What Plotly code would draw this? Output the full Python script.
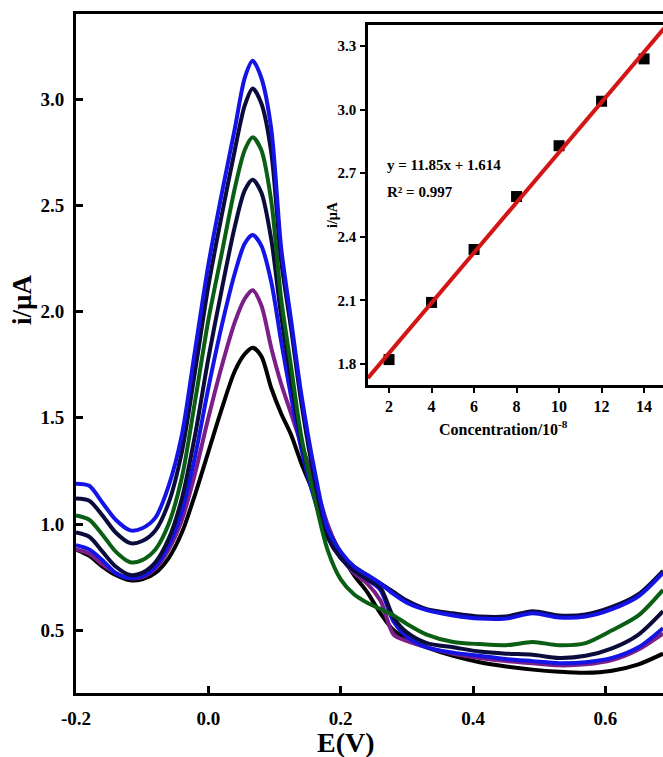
import plotly.graph_objects as go

# ---------------- data ----------------
E = [-0.2, -0.18, -0.16, -0.14, -0.118, -0.10, -0.08, -0.06, -0.04, -0.02, 0.0, 0.02, 0.04, 0.055,
     0.067, 0.08, 0.095, 0.11, 0.125, 0.14, 0.16, 0.18, 0.20, 0.22, 0.24, 0.26, 0.28, 0.30, 0.33,
     0.37, 0.41, 0.45, 0.49, 0.53, 0.57, 0.61, 0.65, 0.687]

i_black = [0.88, 0.85, 0.80, 0.76, 0.735, 0.74, 0.77, 0.84, 0.96, 1.14, 1.34, 1.54, 1.72, 1.80,
           1.83, 1.79, 1.64, 1.52, 1.42, 1.29, 1.14, 0.99, 0.86, 0.76, 0.68, 0.58, 0.50, 0.46, 0.42,
           0.38, 0.35, 0.33, 0.315, 0.305, 0.30, 0.31, 0.34, 0.39]
i_purple = [0.88, 0.86, 0.81, 0.77, 0.745, 0.75, 0.79, 0.88, 1.02, 1.24, 1.50, 1.74, 1.95, 2.06,
            2.10, 2.03, 1.83, 1.66, 1.52, 1.38, 1.20, 1.00, 0.85, 0.77, 0.72, 0.64, 0.48, 0.45, 0.42,
            0.39, 0.37, 0.355, 0.345, 0.335, 0.34, 0.36, 0.41, 0.485]
i_blue2 = [0.90, 0.88, 0.83, 0.77, 0.745, 0.755, 0.80, 0.90, 1.06, 1.32, 1.64, 1.93, 2.18, 2.32,
           2.36, 2.31, 2.14, 1.86, 1.60, 1.36, 1.12, 0.94, 0.84, 0.78, 0.74, 0.69, 0.54, 0.47, 0.42,
           0.395, 0.38, 0.365, 0.355, 0.345, 0.35, 0.37, 0.42, 0.51]
i_navy2 = [0.96, 0.94, 0.87, 0.80, 0.76, 0.77, 0.82, 0.93, 1.12, 1.42, 1.78, 2.10, 2.40, 2.57,
           2.62, 2.56, 2.34, 1.98, 1.68, 1.40, 1.14, 0.94, 0.84, 0.78, 0.74, 0.70, 0.56, 0.49, 0.44,
           0.42, 0.40, 0.39, 0.385, 0.37, 0.38, 0.415, 0.48, 0.59]
i_green = [1.04, 1.02, 0.95, 0.87, 0.82, 0.83, 0.88, 1.00, 1.22, 1.58, 1.96, 2.27, 2.58, 2.76,
           2.82, 2.76, 2.52, 2.06, 1.74, 1.42, 1.13, 0.88, 0.74, 0.67, 0.63, 0.60, 0.57, 0.53, 0.48,
           0.445, 0.435, 0.43, 0.445, 0.43, 0.44, 0.50, 0.57, 0.69]
i_navy1 = [1.12, 1.11, 1.04, 0.96, 0.91, 0.92, 0.97, 1.10, 1.34, 1.72, 2.12, 2.45, 2.76, 2.97,
           3.05, 2.98, 2.75, 2.24, 1.92, 1.58, 1.22, 0.96, 0.86, 0.80, 0.76, 0.72, 0.68, 0.64, 0.60,
           0.58, 0.565, 0.565, 0.59, 0.57, 0.575, 0.61, 0.67, 0.78]
i_blue1 = [1.19, 1.18, 1.10, 1.02, 0.97, 0.98, 1.03, 1.18, 1.42, 1.82, 2.22, 2.55, 2.86, 3.10,
           3.18, 3.10, 2.86, 2.30, 1.96, 1.62, 1.26, 0.98, 0.87, 0.80, 0.76, 0.72, 0.67, 0.63, 0.595,
           0.57, 0.555, 0.555, 0.58, 0.56, 0.565, 0.60, 0.66, 0.77]

conc = [2, 4, 6, 8, 10, 12, 14]
i_peak = [1.82, 2.09, 2.34, 2.59, 2.83, 3.04, 3.24]
fit_slope = 0.1185   # 11.85 x 10^-2 per plotted unit
fit_intercept = 1.614
fit_x = [1.0, 15.0]

main_xtickvals = [-0.2, 0.0, 0.2, 0.4, 0.6]
main_xticktext = ["-0.2", "0.0", "0.2", "0.4", "0.6"]
main_ytickvals = [0.5, 1.0, 1.5, 2.0, 2.5, 3.0]
main_yticktext = ["0.5", "1.0", "1.5", "2.0", "2.5", "3.0"]
ins_xtickvals = [2, 4, 6, 8, 10, 12, 14]
ins_ytickvals = [1.8, 2.1, 2.4, 2.7, 3.0, 3.3]
ins_yticktext = ["1.8", "2.1", "2.4", "2.7", "3.0", "3.3"]

# ---------------- styles ----------------
curves = [
    (i_black, "#000000"),
    (i_purple, "#7b1e88"),
    (i_blue2, "#1414e6"),
    (i_navy2, "#0b0b3c"),
    (i_green, "#0b5f14"),
    (i_navy1, "#0b0b3c"),
    (i_blue1, "#1414e6"),
]
FONT = "Liberation Serif"

fig = go.Figure()
for vals, col in curves:
    fig.add_trace(go.Scatter(x=E, y=vals, mode="lines", line=dict(color=col, width=4, shape="spline", smoothing=0.8),
                             showlegend=False, hoverinfo="skip", xaxis="x", yaxis="y"))

fit_y = [fit_slope * v + fit_intercept for v in fit_x]
fig.add_trace(go.Scatter(x=conc, y=i_peak, mode="markers",
                         marker=dict(symbol="square", size=11, color="#000000"),
                         showlegend=False, xaxis="x2", yaxis="y2"))
fig.add_trace(go.Scatter(x=fit_x, y=fit_y, mode="lines", line=dict(color="#d41515", width=4),
                         showlegend=False, xaxis="x2", yaxis="y2"))

W, H = 663, 757
L, R, T, B = 76, 0, 14, 64
pw, ph = W - L - R, H - T - B


def px(xp):
    return (xp - L) / pw


def py(yp):
    return (H - B - yp) / ph


fig.update_layout(
    width=W, height=H,
    margin=dict(l=L, r=R, t=T, b=B),
    paper_bgcolor="white", plot_bgcolor="white",
    font=dict(family=FONT, color="black", weight="bold"),
    xaxis=dict(range=[-0.2, 0.687], domain=[0, 1], showgrid=False, zeroline=False,
               showline=True, linecolor="black", linewidth=3, mirror=True,
               ticks="inside", ticklen=7, tickwidth=2.5, tickcolor="black",
               tickvals=main_xtickvals, ticktext=main_xticktext,
               tickfont=dict(family=FONT, size=19, weight="bold"), ticklabelstandoff=6),
    yaxis=dict(range=[0.205, 3.40], domain=[0, 1], showgrid=False, zeroline=False,
               showline=True, linecolor="black", linewidth=3, mirror=False,
               ticks="inside", ticklen=7, tickwidth=2.5, tickcolor="black",
               tickvals=main_ytickvals, ticktext=main_yticktext,
               tickfont=dict(family=FONT, size=19, weight="bold"), ticklabelstandoff=5),
    xaxis2=dict(range=[1.01, 14.89], domain=[px(368), 1.0], anchor="y2", showgrid=False, zeroline=False,
                showline=True, linecolor="black", linewidth=2.5, mirror=True,
                ticks="outside", ticklen=5, tickwidth=2, tickcolor="black",
                tickvals=ins_xtickvals,
                tickfont=dict(family=FONT, size=16, weight="bold"), ticklabelstandoff=0),
    yaxis2=dict(range=[1.70, 3.40], domain=[py(385), py(25)], anchor="x2", showgrid=False, zeroline=False,
                showline=True, linecolor="black", linewidth=2.5, mirror=False,
                ticks="outside", ticklen=5, tickwidth=2, tickcolor="black",
                tickvals=ins_ytickvals, ticktext=ins_yticktext,
                tickfont=dict(family=FONT, size=15, weight="bold"), ticklabelstandoff=1),
)

ann = [
    dict(text="E(V)", x=px(346), y=py(742), font=dict(size=28)),
    dict(text="i/\u00b5A", x=px(22), y=py(300), font=dict(size=27), textangle=-90),
    dict(text="i/\u00b5A", x=px(333), y=py(215), font=dict(size=14), textangle=-90),
    dict(text="Concentration/10<sup>-8</sup>", x=px(503), y=py(428), font=dict(size=16)),
    dict(text="y = 11.85x + 1.614", x=px(385), y=py(165), font=dict(size=15), xanchor="left"),
    dict(text="R\u00b2 = 0.997", x=px(385), y=py(192), font=dict(size=15), xanchor="left"),
]
for a in ann:
    a.setdefault("xanchor", "center")
    a["font"].update(family=FONT, color="black", weight="bold")
    fig.add_annotation(xref="paper", yref="paper", showarrow=False, yanchor="middle", **a)

fig.write_html("out.html")
